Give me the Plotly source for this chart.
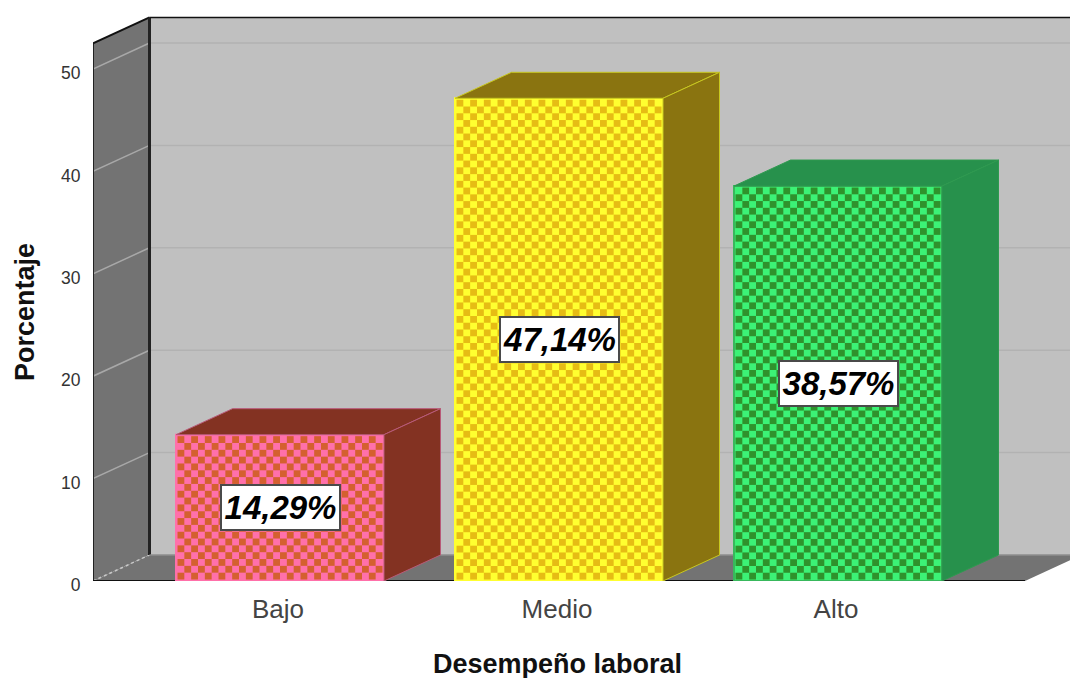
import numpy as np
import plotly.graph_objects as go

categorias = ["Bajo", "Medio", "Alto"]
porcentajes = [14.29, 47.14, 38.57]
etiquetas = ["14,29%", "47,14%", "38,57%"]
marcas_y = [0, 10, 20, 30, 40, 50]

color_claro = ["#ff70aa", "#ffff30", "#3cf276"]
color_cuadro = ["#d4602f", "#e6bc14", "#2f922c"]
color_lateral = ["#833222", "#8a7410", "#27914c"]
color_borde = ["#b85a78", "#c8c820", "#2f9a50"]
color_contorno = ["#ff70aa", "#ffff30", "#38b85c"]

FUENTE = "Liberation Sans, Arial, sans-serif"

# Pixel scale of the plot area, used to express the oblique depth in axis units
ANCHO, ALTO = 1070, 678
IZQ, BASE = 93, 581
PX_X, PX_Y = 279.0, 10.24
x_min = -(280 - IZQ) / PX_X
x_max = x_min + (ANCHO - IZQ) / PX_X
y_max = BASE / PX_Y
prof_x, prof_y = 56.5 / PX_X, 26 / PX_Y
suelo_der = x_min + (1025 - IZQ) / PX_X
techo = 52.5
ancho_barra = 208 / PX_X
MARGEN_CELDA = 1.5
LADO_CELDA = 6.8

pos = list(range(len(categorias)))
fig = go.Figure()

# Front faces
fig.add_trace(go.Bar(
    x=pos, y=porcentajes, width=ancho_barra,
    marker=dict(color=color_claro, line=dict(color=color_contorno, width=2)),
    hoverinfo="skip", showlegend=False,
))

for i, v in enumerate(porcentajes):
    izq, der = i - ancho_barra / 2, i + ancho_barra / 2
    # Top and side faces of the prism
    fig.add_trace(go.Scatter(
        x=[izq, der, der + prof_x, izq + prof_x, izq],
        y=[v, v, v + prof_y, v + prof_y, v],
        mode="lines", fill="toself", fillcolor=color_lateral[i],
        line=dict(color=color_borde[i], width=1),
        hoverinfo="skip", showlegend=False,
    ))
    fig.add_trace(go.Scatter(
        x=[der, der + prof_x, der + prof_x, der, der],
        y=[0, prof_y, v + prof_y, v, 0],
        mode="lines", fill="toself", fillcolor=color_lateral[i],
        line=dict(color=color_borde[i], width=1),
        hoverinfo="skip", showlegend=False,
    ))
    # Checkered fill of the front face, stretched slightly to fill the bar height
    alto_px = v * PX_Y - 2 * MARGEN_CELDA
    ancho_px = ancho_barra * PX_X - 2 * MARGEN_CELDA
    filas = round(alto_px / LADO_CELDA)
    columnas = round(ancho_px / LADO_CELDA)
    paso_x = ancho_px / columnas / PX_X
    paso_y = alto_px / filas / PX_Y
    origen_x = izq + MARGEN_CELDA / PX_X
    origen_y = MARGEN_CELDA / PX_Y
    cx, cy = [], []
    for f in range(filas):
        for c in range(columnas):
            if (f + c) % 2 == 0:
                cx.append(origen_x + (c + 0.5) * paso_x)
                cy.append(origen_y + (f + 0.5) * paso_y)
    fig.add_trace(go.Scatter(
        x=cx, y=cy, mode="markers",
        marker=dict(symbol="square", size=LADO_CELDA, color=color_cuadro[i], line=dict(width=0)),
        hoverinfo="skip", showlegend=False,
    ))

# Walls and floor of the chart box
formas = []


def poligono(puntos, relleno):
    camino = "M " + " L ".join(f"{a},{b}" for a, b in puntos) + " Z"
    formas.append(dict(type="path", path=camino, xref="x", yref="y", layer="below",
                       fillcolor=relleno, line=dict(width=0)))


def linea(x0, y0, x1, y1, color, ancho, trazo="solid"):
    formas.append(dict(type="line", x0=x0, y0=y0, x1=x1, y1=y1, xref="x", yref="y",
                       layer="below", line=dict(color=color, width=ancho, dash=trazo)))


fondo_x = x_min + prof_x
poligono([(fondo_x, prof_y), (x_max + 1, prof_y), (x_max + 1, techo + prof_y), (fondo_x, techo + prof_y)], "#c0c0c0")
poligono([(x_min, 0), (fondo_x, prof_y), (fondo_x, techo + prof_y), (x_min, techo)], "#737373")
poligono([(x_min, 0), (suelo_der, 0), (suelo_der + prof_x, prof_y), (fondo_x, prof_y)], "#737373")

for m in marcas_y[1:]:
    linea(x_min, m, fondo_x, m + prof_y, "#a8a8a8", 1.5)
    linea(fondo_x, m + prof_y, x_max, m + prof_y, "#b2b2b2", 1.5)

linea(x_min, 0, fondo_x, prof_y, "#c8c8c8", 1.5, "dot")
linea(x_min, 0, x_min, techo, "#222222", 2)
linea(x_min, techo, fondo_x, techo + prof_y, "#111111", 2)
linea(fondo_x, prof_y, fondo_x, techo + prof_y, "#222222", 3)
linea(fondo_x, techo + prof_y, x_max, techo + prof_y, "#111111", 1.5)
linea(x_min, 0, suelo_der, 0, "#111111", 2)
linea(fondo_x, prof_y, x_max, prof_y, "#8e8e8e", 1.5)

# Value labels in white boxes
anotaciones = [
    dict(x=i, y=v / 2, text=etiquetas[i], showarrow=False, xref="x", yref="y",
         font=dict(family=FUENTE, size=33, color="#000000", weight=700, style="italic"),
         bgcolor="#ffffff", bordercolor="#4a4a4a", borderwidth=2, borderpad=0,
         width=117, height=43)
    for i, v in enumerate(porcentajes)
]

# Axis titles, placed off-centre from the plot area
titulo = dict(family=FUENTE, size=27, color="#111111", weight=700)
anotaciones.append(dict(
    text="Desempeño laboral", showarrow=False, xref="paper", yref="paper",
    x=(557.5 - IZQ) / (ANCHO - IZQ), y=(BASE - 664) / BASE,
    xanchor="center", yanchor="middle", font=titulo,
))
anotaciones.append(dict(
    text="Porcentaje", showarrow=False, xref="paper", yref="paper", textangle=-90,
    x=(25 - IZQ) / (ANCHO - IZQ), y=(BASE - 312) / BASE,
    xanchor="center", yanchor="middle", font=titulo,
))

fig.update_layout(
    width=ANCHO, height=ALTO,
    margin=dict(l=IZQ, r=0, t=0, b=ALTO - BASE),
    paper_bgcolor="#ffffff", plot_bgcolor="#ffffff",
    font=dict(family=FUENTE, color="#222222"),
    shapes=formas, annotations=anotaciones,
    showlegend=False,
    xaxis=dict(
        range=[x_min, x_max], tickmode="array", tickvals=pos, ticktext=categorias,
        showgrid=False, zeroline=False, showline=False,
        ticks="outside", ticklen=5, tickcolor="rgba(0,0,0,0)",
        ticklabelshift=-2,
        tickfont=dict(family=FUENTE, size=26, color="#444444"),
    ),
    yaxis=dict(
        range=[0, y_max], tickmode="array", tickvals=marcas_y,
        showgrid=False, zeroline=False, showline=False,
        ticks="outside", ticklen=8, tickcolor="rgba(0,0,0,0)",
        ticklabelshift=4,
        tickfont=dict(family=FUENTE, size=17.5, color="#333333"),
    ),
)

fig.write_html("out.html", config=dict(displayModeBar=False))
